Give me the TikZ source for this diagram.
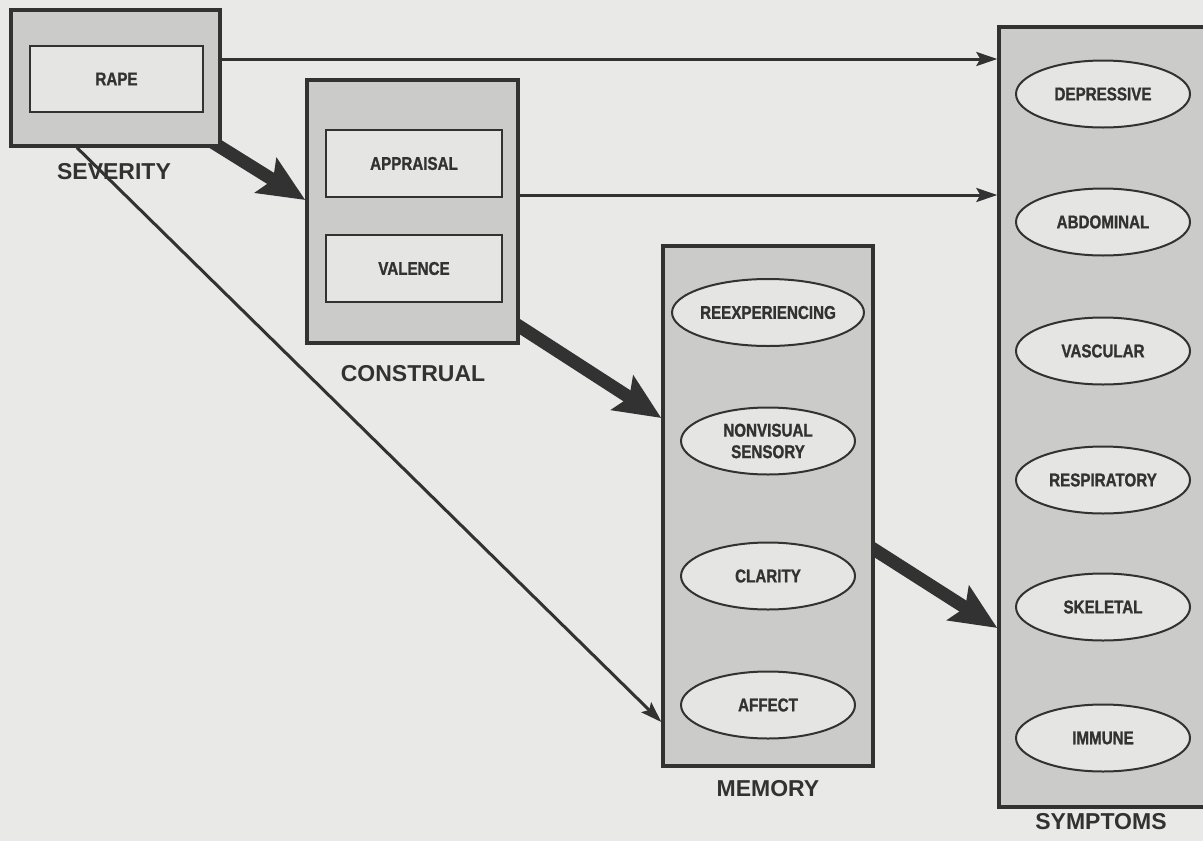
\documentclass[tikz,border=0pt]{standalone}
\usepackage{fontspec}
\setmainfont{Liberation Sans}
\newfontfamily\cnd[FakeStretch=0.82,FakeBold=1.2]{Liberation Sans}
\usetikzlibrary{arrows.meta,shapes.geometric,calc}
\pgfdeclarelayer{back}
\pgfdeclarelayer{bg}
\pgfsetlayers{back,bg,main}
\definecolor{paper}{RGB}{233,233,231}
\definecolor{boxfill}{RGB}{203,203,201}
\definecolor{innerfill}{RGB}{229,229,227}
\definecolor{ink}{RGB}{50,50,50}
\tikzset{
  outerbox/.style={draw=ink, line width=3.4pt, fill=boxfill, rectangle, inner sep=0pt},
  innerbox/.style={draw=ink, line width=2pt, fill=innerfill, rectangle, inner sep=0pt,
    minimum width=175pt, minimum height=66pt, text=ink, font=\cnd\bfseries\fontsize{18.5}{21.5}\selectfont},
  oval/.style={draw=ink, line width=2pt, fill=innerfill, ellipse, inner sep=0pt,
    minimum width=174pt, minimum height=67pt, text=ink, align=center,
    font=\cnd\bfseries\fontsize{18.5}{21.5}\selectfont},
  biglabel/.style={text=ink, font=\bfseries\fontsize{23}{26}\selectfont, inner sep=0pt},
  thinarr/.style={draw=ink, line width=3pt, -{Stealth[length=21pt,width=14pt,inset=4pt]}},
  thickarr/.style={draw=ink, line width=13pt, -{Stealth[length=46pt,width=40pt,inset=8pt]}}
}
\begin{document}
\begin{tikzpicture}[x=1pt,y=-1pt]
\clip (0,0) rectangle (1203,841);
\begin{pgfonlayer}{back}
\fill[paper] (0,0) rectangle (1203,841);
\end{pgfonlayer}

% boxes
\node[outerbox, minimum width=209pt, minimum height=136pt] (sev) at (115.5,78) {};
\node[innerbox, minimum width=173pt] (rape) at (116.5,79) {RAPE};
\node[biglabel] (sevl) at (114,172) {SEVERITY};

\node[outerbox, minimum width=211pt, minimum height=263pt] (con) at (412.5,211.5) {};
\node[innerbox, minimum width=176pt, minimum height=67pt] (appr) at (414,163.5) {APPRAISAL};
\node[innerbox, minimum width=176pt, minimum height=67pt] (val) at (414,268.5) {VALENCE};
\node[biglabel] (conl) at (413,374) {CONSTRUAL};

\node[outerbox, minimum width=210pt, minimum height=520pt] (mem) at (768,506) {};
\node[oval] (reexp) at (768,312.5) {REEXPERIENCING};
\node[oval] (nonvis) at (768,441) {NONVISUAL\\SENSORY};
\node[oval] (clar) at (768,576) {CLARITY};
\node[oval] (aff) at (768,705) {AFFECT};
\node[biglabel] (meml) at (768,789) {MEMORY};

\node[outerbox, minimum width=212pt, minimum height=780pt] (sym) at (1105,417) {};
\node[oval] (dep) at (1103,94) {DEPRESSIVE};
\node[oval] (abd) at (1103,222) {ABDOMINAL};
\node[oval] (vasc) at (1103,351) {VASCULAR};
\node[oval] (resp) at (1103,480) {RESPIRATORY};
\node[oval] (skel) at (1103,607) {SKELETAL};
\node[oval] (imm) at (1103,738) {IMMUNE};
\node[biglabel] (syml) at (1101,822) {SYMPTOMS};

% connectors
\coordinate (a1) at ([yshift=19pt]sev.east);
\coordinate (a2) at ([yshift=16.5pt]con.east);
\coordinate (a3) at ([xshift=-38.5pt]sev.south);
\coordinate (a3e) at ([yshift=-216pt]mem.west);
\coordinate (t1s) at ([xshift=-10pt,yshift=6pt]sev.south east);
\coordinate (t1e) at ([yshift=11.5pt]con.west);
\coordinate (t2s) at ([xshift=-6pt,yshift=22pt]con.south east);
\coordinate (t2e) at ([yshift=88pt]mem.west);
\coordinate (t3s) at ([xshift=-6pt,yshift=-40pt]mem.east);
\coordinate (t3e) at ([yshift=-211pt]sym.west);

\draw[thinarr] (a1) -- (a1 -| sym.west);
\draw[thinarr] (a2) -- (a2 -| sym.west);
\begin{pgfonlayer}{bg}
\draw[thinarr] (a3) -- (a3e);
\draw[thickarr] (t1s) -- (t1e);
\draw[thickarr] (t2s) -- (t2e);
\draw[thickarr] (t3s) -- (t3e);
\end{pgfonlayer}
\end{tikzpicture}
\end{document}
